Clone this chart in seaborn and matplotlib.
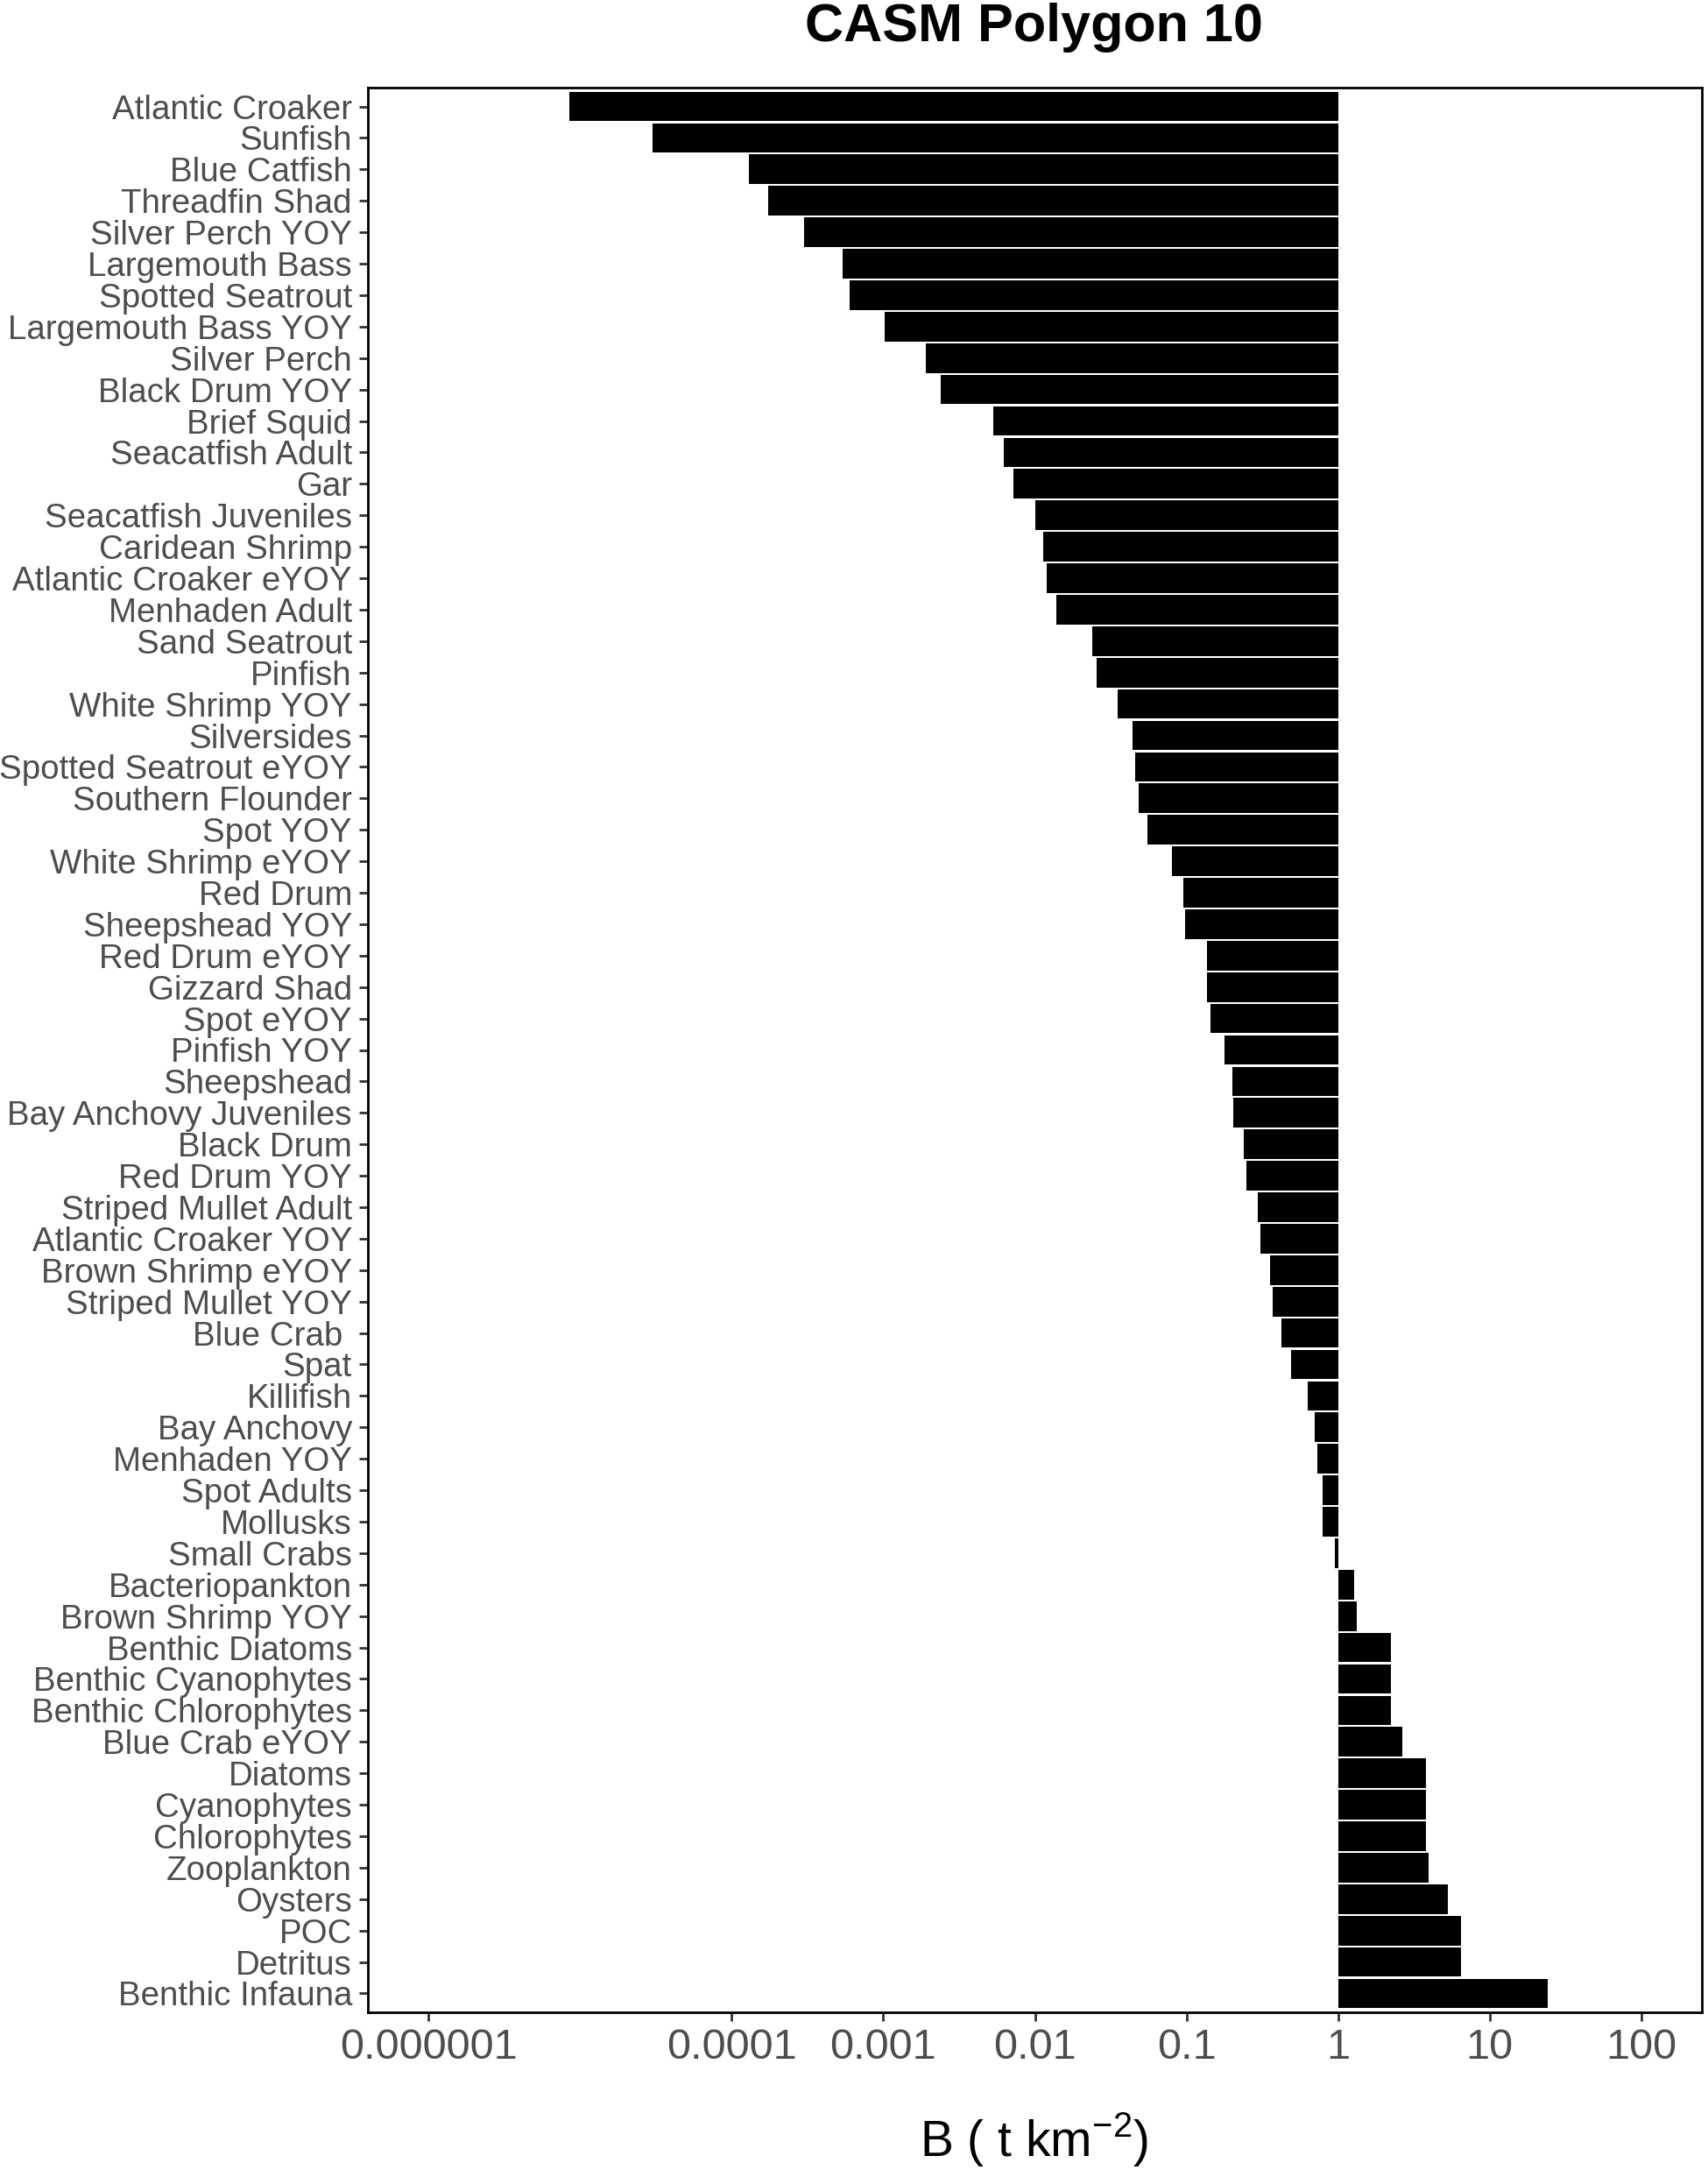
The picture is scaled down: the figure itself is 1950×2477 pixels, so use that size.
import numpy as np
import pandas as pd
import matplotlib
matplotlib.use("Agg")
import matplotlib.pyplot as plt
import seaborn as sns

# functional groups, top to bottom
groups = [
    "Atlantic Croaker", "Sunfish", "Blue Catfish", "Threadfin Shad",
    "Silver Perch YOY", "Largemouth Bass", "Spotted Seatrout",
    "Largemouth Bass YOY", "Silver Perch", "Black Drum YOY", "Brief Squid",
    "Seacatfish Adult", "Gar", "Seacatfish Juveniles", "Caridean Shrimp",
    "Atlantic Croaker eYOY", "Menhaden Adult", "Sand Seatrout", "Pinfish",
    "White Shrimp YOY", "Silversides", "Spotted Seatrout eYOY",
    "Southern Flounder", "Spot YOY", "White Shrimp eYOY", "Red Drum",
    "Sheepshead YOY", "Red Drum eYOY", "Gizzard Shad", "Spot eYOY",
    "Pinfish YOY", "Sheepshead", "Bay Anchovy Juveniles", "Black Drum",
    "Red Drum YOY", "Striped Mullet Adult", "Atlantic Croaker YOY",
    "Brown Shrimp eYOY", "Striped Mullet YOY", "Blue Crab ", "Spat",
    "Killifish", "Bay Anchovy", "Menhaden YOY", "Spot Adults", "Mollusks",
    "Small Crabs", "Bacteriopankton", "Brown Shrimp YOY", "Benthic Diatoms",
    "Benthic Cyanophytes", "Benthic Chlorophytes", "Blue Crab eYOY",
    "Diatoms", "Cyanophytes", "Chlorophytes", "Zooplankton", "Oysters",
    "POC", "Detritus", "Benthic Infauna",
]

# biomass, t km-2
biomass = [
    8.5e-6, 3.0e-5, 1.3e-4, 1.75e-4,
    3.0e-4, 5.4e-4, 6.0e-4,
    1.02e-3, 1.9e-3, 2.4e-3, 5.3e-3,
    6.2e-3, 7.2e-3, 0.0101, 0.0113,
    0.0119, 0.0138, 0.0238, 0.0256,
    0.035, 0.044, 0.0457,
    0.0485, 0.055, 0.080, 0.096,
    0.098, 0.137, 0.137, 0.145,
    0.178, 0.200, 0.203, 0.240,
    0.248, 0.294, 0.306,
    0.355, 0.369, 0.421, 0.487,
    0.633, 0.706, 0.735, 0.792, 0.792,
    0.957, 1.27, 1.32, 2.22,
    2.22, 2.22, 2.67,
    3.81, 3.81, 3.81, 3.95, 5.32,
    6.44, 6.44, 24.2,
]

tick_values = [1e-6, 1e-4, 1e-3, 1e-2, 1e-1, 1, 10, 100]
tick_labels = ["0.000001", "0.0001", "0.001", "0.01", "0.1", "1", "10", "100"]


def build_frame():
    data = pd.DataFrame({"group": groups, "biomass": biomass})
    # bars start at 1 t km-2, so plot on log10 and relabel the ticks
    data["log_b"] = np.log10(data["biomass"])
    return data


def draw(data):
    sns.set_theme(style="white")
    plt.rcParams["font.family"] = ["Liberation Sans", "DejaVu Sans"]
    plt.rcParams["mathtext.fontset"] = "custom"
    plt.rcParams["mathtext.rm"] = "Liberation Sans"

    fig, ax = plt.subplots(figsize=(19.5, 24.77), dpi=100)
    fig.subplots_adjust(left=420 / 1950, right=1943 / 1950,
                        top=1 - 100 / 2477, bottom=1 - 2297 / 2477)

    sns.barplot(data=data, x="log_b", y="group", order=groups, orient="h",
                color="black", saturation=1, width=0.94, linewidth=0, ax=ax)

    ax.set_xlim(-6.4, 2.4)
    ax.set_ylim(len(groups) - 0.4, -0.6)
    ax.set_xticks(np.log10(tick_values))
    ax.set_xticklabels(tick_labels)
    ax.set_xlabel("")
    ax.set_ylabel("")

    for side in ["top", "bottom", "left", "right"]:
        ax.spines[side].set_visible(True)
        ax.spines[side].set_color("black")
        ax.spines[side].set_linewidth(2)

    ax.tick_params(axis="both", direction="out", length=7, width=2,
                   color="#333333", labelcolor="#4d4d4d", pad=6)
    ax.tick_params(axis="x", labelsize=35, bottom=True)
    ax.tick_params(axis="y", labelsize=27.7, left=True)

    fig.text(0.6056, 1 - 47 / 2477, "CASM Polygon 10", ha="center",
             va="baseline", fontsize=44, fontweight="bold", color="black")
    fig.text(0.6056, 1 - 2462 / 2477, r"B ( t km$^{-2}$)", ha="center",
             va="baseline", fontsize=41, color="black")

    fig.savefig("out.png", dpi=100)
    plt.close(fig)


def main():
    data = build_frame()
    draw(data)


if __name__ == "__main__":
    main()
